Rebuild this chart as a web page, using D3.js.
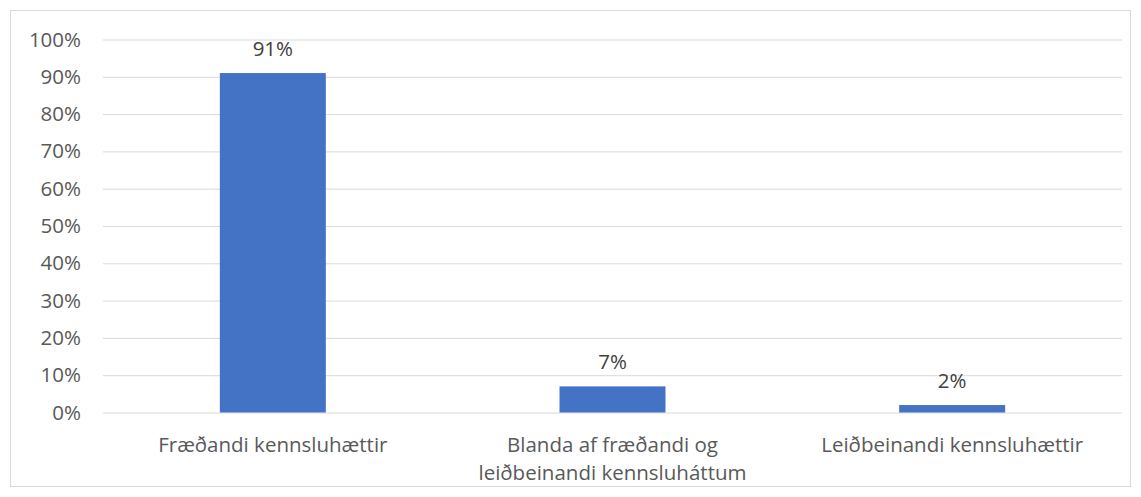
<!DOCTYPE html>
<html>
<head>
<meta charset="utf-8">
<script src="https://cdn.jsdelivr.net/npm/d3@7"></script>
<style>
  body { margin: 0; background: #fff; }
  text { font-family: "Open Sans", "Noto Sans", sans-serif; }
</style>
</head>
<body>
<div id="chart"></div>
<script>
const categories = [
  ["Fræðandi kennsluhættir"],
  ["Blanda af fræðandi og", "leiðbeinandi kennsluháttum"],
  ["Leiðbeinandi kennsluhættir"]
]
const values = [0.91, 0.07, 0.02]
const valueLabels = ["91%", "7%", "2%"]
const yTicks = [0, 0.1, 0.2, 0.3, 0.4, 0.5, 0.6, 0.7, 0.8, 0.9, 1.0]

const width = 1141, height = 497
const fontSize = "20.5px"

let svg = d3.select("#chart")
  .append("svg")
  .attr("width", width)
  .attr("height", height)

// outer frame
svg.append("rect")
  .attr("x", 10.5)
  .attr("y", 10.5)
  .attr("width", 1120)
  .attr("height", 476)
  .attr("fill", "#fff")
  .attr("stroke", "#d9d9d9")

let x = d3.scaleBand()
  .domain(d3.range(categories.length))
  .range([103, 1122])
  .paddingInner(0.688)
  .paddingOuter(0.344)

let y = d3.scaleLinear()
  .domain([0, 1])
  .range([412.5, 39.5])

// y axis with gridlines
svg.append("g")
  .attr("transform", "translate(103, 0)")
  .call(d3.axisLeft(y)
    .tickValues(yTicks)
    .tickSize(-1019)
    .tickPadding(22)
    .tickFormat(d3.format(".0%")))
  .call(g => g.select(".domain").remove())
  .call(g => g.selectAll(".tick line")
    .attr("stroke", "#d9d9d9")
    .attr("stroke-width", 1))
  .call(g => g.selectAll(".tick text")
    .attr("fill", "#595959")
    .attr("font-size", fontSize)
    .attr("font-family", "\"Open Sans\", sans-serif"))

// bars
svg.append("g")
  .selectAll("rect")
  .data(values)
  .join("rect")
  .attr("x", (d, i) => x(i))
  .attr("y", d => y(d))
  .attr("width", x.bandwidth())
  .attr("height", d => y(0) - y(d))
  .attr("fill", "#4472c4")

// data labels
svg.append("g")
  .selectAll("text")
  .data(values)
  .join("text")
  .attr("x", (d, i) => x(i) + x.bandwidth() / 2)
  .attr("y", d => y(d) - 17)
  .attr("text-anchor", "middle")
  .attr("fill", "#404040")
  .attr("font-size", fontSize)
  .text((d, i) => valueLabels[i])

// category labels
let cat = svg.append("g")
  .selectAll("text")
  .data(categories)
  .join("text")
  .attr("x", (d, i) => x(i) + x.bandwidth() / 2)
  .attr("y", 452)
  .attr("text-anchor", "middle")
  .attr("fill", "#595959")
  .attr("font-size", fontSize)

cat.selectAll("tspan")
  .data(d => d)
  .join("tspan")
  .attr("x", function() { return d3.select(this.parentNode).attr("x") })
  .attr("dy", (d, i) => i === 0 ? 0 : 28)
  .text(d => d)
</script>
</body>
</html>
